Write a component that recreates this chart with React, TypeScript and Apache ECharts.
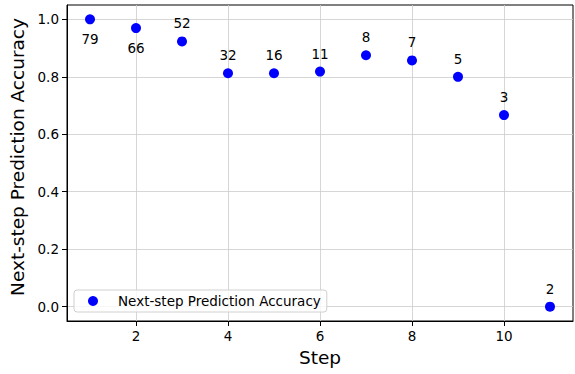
import React, { useEffect, useRef } from "react";
import * as echarts from "echarts";

const steps = [1, 2, 3, 4, 5, 6, 7, 8, 9, 10, 11];
const accuracy = [1.0, 0.9697, 0.9231, 0.8125, 0.8125, 0.8182, 0.875, 0.8571, 0.8, 0.6667, 0.0];
const counts = [79, 66, 52, 32, 16, 11, 8, 7, 5, 3, 2];
const labelBelow = [true, true, false, false, false, false, false, false, false, false, false];
const xTicks = [2, 4, 6, 8, 10];
const yTicks = [0, 0.2, 0.4, 0.6, 0.8, 1.0];
const seriesName = "Next-step Prediction Accuracy";

const FONT = "DejaVu Sans";

export default function App() {
  const ref = useRef<HTMLDivElement>(null);
  useEffect(() => {
    if (!ref.current) return;
    const chart = echarts.init(ref.current, undefined, { renderer: "svg" });
    const data = steps.map((s, i) => ({
      value: [s, accuracy[i]],
      label: {
        show: true,
        formatter: String(counts[i]),
        position: labelBelow[i] ? "bottom" : "top",
        distance: labelBelow[i] ? 8 : 6,
      },
    }));
    chart.setOption({
      animation: false,
      backgroundColor: "#ffffff",
      textStyle: { fontFamily: FONT },
      grid: {
        left: 67,
        top: 5,
        right: 2,
        bottom: 53,
        outerBoundsMode: "none",
        containLabel: false,
        show: true,
        borderColor: "#000000",
        borderWidth: 1,
        backgroundColor: "transparent",
      },
      legend: {
        show: true,
        left: 74,
        top: 290,
        orient: "horizontal",
        data: [{ name: seriesName, icon: "circle", itemStyle: { color: "#0000ff", opacity: 1 } }],
        itemWidth: 24,
        itemHeight: 10,
        padding: [4, 6, 4, 14],
        borderColor: "#d0d0d0",
        borderWidth: 1,
        borderRadius: 3,
        backgroundColor: "rgba(255,255,255,0.8)",
        textStyle: { fontFamily: FONT, fontSize: 13.5, color: "#000", padding: [0, 0, 0, 8] },
      },
      xAxis: {
        type: "value",
        min: 0.5,
        max: 11.5,
        name: "Step",
        nameLocation: "middle",
        nameGap: 27,
        nameTextStyle: { fontFamily: FONT, fontSize: 18.5, color: "#000" },
        axisLine: { show: true, onZero: false, lineStyle: { color: "#000", width: 1 } },
        axisTick: { show: true, length: 5, customValues: xTicks, lineStyle: { color: "#000" } },
        axisLabel: {
          customValues: xTicks,
          fontFamily: FONT,
          fontSize: 13.5,
          color: "#000",
          margin: 8,
        },
        splitLine: { show: true, lineStyle: { color: "#cccccc", width: 0.8 } },
      },
      yAxis: {
        type: "value",
        min: -0.05,
        max: 1.05,
        name: "Next-step Prediction Accuracy",
        nameLocation: "middle",
        nameGap: 38,
        nameTextStyle: { fontFamily: FONT, fontSize: 18.5, color: "#000", padding: [0, 0, 0, 12] },
        axisLine: { show: true, onZero: false, lineStyle: { color: "#000", width: 1 } },
        axisTick: { show: true, length: 5, customValues: yTicks, lineStyle: { color: "#000" } },
        axisLabel: {
          customValues: yTicks,
          fontFamily: FONT,
          fontSize: 13.5,
          color: "#000",
          margin: 8,
          formatter: (v: number) => v.toFixed(1),
        },
        splitLine: { show: true, lineStyle: { color: "#cccccc", width: 0.8 } },
      },
      series: [
        {
          name: seriesName,
          type: "scatter",
          symbol: "circle",
          symbolSize: 10,
          itemStyle: { color: "#0000ff", opacity: 1 },
          label: { fontFamily: FONT, fontSize: 13.5, color: "#000" },
          data,
          z: 3,
        },
      ],
    });
    return () => chart.dispose();
  }, []);
  return (
    <div
      ref={ref}
      style={{ position: "fixed", left: 0, top: 0, width: 575, height: 374 }}
    />
  );
}
